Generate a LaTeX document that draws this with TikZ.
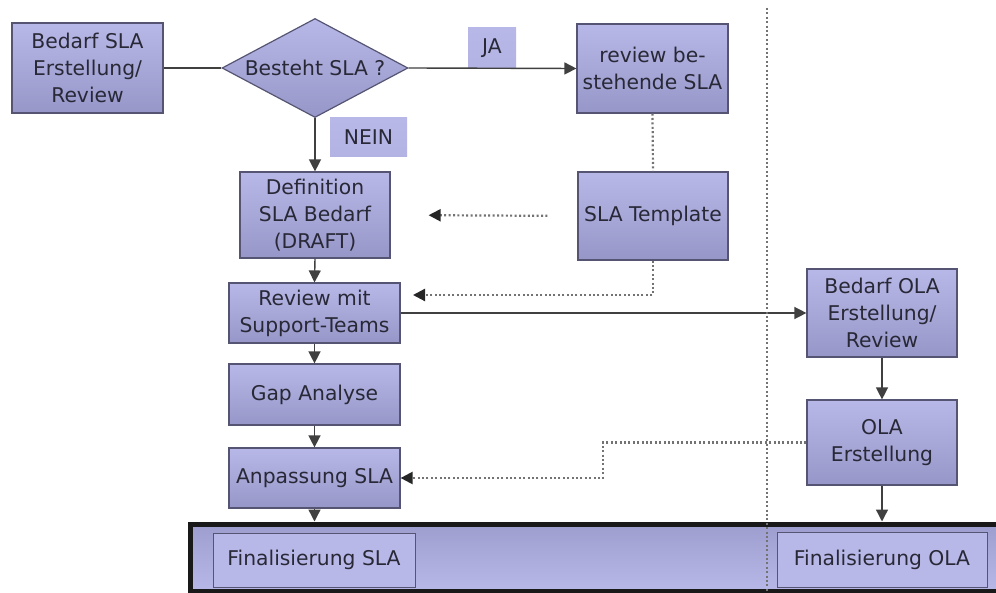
\documentclass[tikz,border=0pt]{standalone}
\usepackage{fontspec}
\setmainfont{DejaVu Sans}
\usetikzlibrary{arrows.meta,shapes.geometric,calc}
\definecolor{lavL}{RGB}{208,208,250}
\definecolor{lavM}{RGB}{184,184,232}
\definecolor{lavD}{RGB}{150,150,200}
\definecolor{edgec}{RGB}{85,85,115}
\definecolor{txtc}{RGB}{40,40,55}
\tikzset{
  base/.style={font=\fontsize{20.3}{27}\selectfont, text=txtc, align=center, inner sep=0pt},
  procbox/.style={base, rectangle, draw=edgec, line width=1.2pt,
    top color=lavM, middle color=lavL, bottom color=lavD},
  labbox/.style={base, rectangle, top color=lavM, middle color=lavL, bottom color=lavM!85!lavD},
  decbox/.style={base, diamond, draw=edgec, line width=1.2pt, aspect=1.88,
    top color=lavM, middle color=lavL, bottom color=lavD},
  finbox/.style={base, rectangle, draw=edgec, line width=1pt,
    top color=lavM, middle color=lavL, bottom color=lavM},
  conn/.style={draw=black!75, line width=1.4pt},
  arr/.style={conn, -{Triangle[length=12pt,width=12pt]}},
  dotl/.style={draw=black!55, line width=2.2pt, dash pattern=on 2pt off 2.4pt},
  dtip/.style={-{Triangle[length=12pt,width=12pt,color=black!85]}},
}
\begin{document}
\begin{tikzpicture}[x=1pt,y=-1pt]
\useasboundingbox (0,0) rectangle (996,593);
\fill[white] (0,0) rectangle (996,593);

% big final bar
\node[rectangle, draw=black!90, line width=5pt, top color=lavD!80!lavM, middle color=lavL, bottom color=lavM,
      minimum width=815pt, minimum height=67pt, inner sep=0pt] (big) at (597.5,557.5) {};

% process nodes
\node[procbox, minimum width=151pt, minimum height=90pt] (bsla) at (87.5,68) {Bedarf SLA\\Erstellung/\\Review};
\node[decbox, minimum width=186pt, minimum height=99pt] (best) at (315,68) {Besteht SLA ?};
\node[labbox, minimum width=48pt, minimum height=41pt] (ja) at (492,48.5) {JA};
\node[labbox, minimum width=77pt, minimum height=39pt] (nein) at (368.5,137.5) {NEIN};
\node[procbox, minimum width=151pt, minimum height=89pt] (rev) at (652.5,68.5) {review be-\\stehende SLA};
\node[procbox, minimum width=150pt, minimum height=86pt] (def) at (315,215) {Definition\\SLA Bedarf\\(DRAFT)};
\node[procbox, minimum width=150pt, minimum height=88pt] (tmpl) at (653,216) {SLA Template};
\node[procbox, minimum width=171pt, minimum height=60pt] (rms) at (314.5,313) {Review mit\\Support-Teams};
\node[procbox, minimum width=171pt, minimum height=61pt] (gap) at (314.5,394.5) {Gap Analyse};
\node[procbox, minimum width=171pt, minimum height=60pt] (anp) at (314.5,478) {Anpassung SLA};
\node[procbox, minimum width=150pt, minimum height=88pt] (bola) at (882,313) {Bedarf OLA\\Erstellung/\\Review};
\node[procbox, minimum width=150pt, minimum height=85pt] (olae) at (882,442.5) {OLA\\Erstellung};
\node[finbox, minimum width=202pt, minimum height=54pt] (fsla) at (314,560) {Finalisierung SLA};
\node[finbox, minimum width=210pt, minimum height=55pt] (fola) at (882,559.5) {Finalisierung OLA};

% helper coordinates
\coordinate (t1) at (413,295);
\coordinate (k) at (603,460);
\coordinate (vtop) at (767,8);
\coordinate (vbot) at (767,593);

% solid connectors
\draw[conn] (bsla.east) -- (best.west);
\draw[arr] (best.east) -- (rev.west);
\draw[arr] (best.south) -- (def.north);
\draw[arr] (def.south) -- (rms.north);
\draw[arr] (rms.south) -- (gap.north);
\draw[arr] (gap.south) -- (anp.north);
\draw[arr] (anp.south) -- (anp.south |- big.north);
\draw[arr] (rms.east) -- (bola.west);
\draw[arr] (bola.south) -- (olae.north);
\draw[arr] (olae.south) -- (olae.south |- big.north);

% dotted connectors
\draw[dotl] (rev.south) -- (tmpl.north);
\draw[dotl, dtip, shorten <=30pt, shorten >=38pt] (tmpl.west) -- (def.east);
\draw[dotl, dtip] (tmpl.south) |- (t1);
\draw[dotl, dtip] (olae.west) -| (k) |- (anp.east);
\draw[dotl] (vtop) -- (vbot);
\end{tikzpicture}
\end{document}
